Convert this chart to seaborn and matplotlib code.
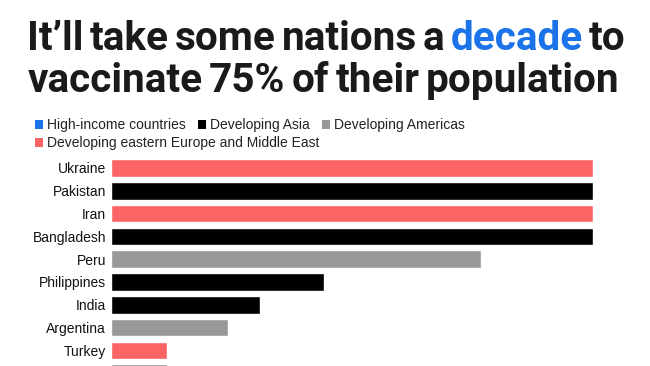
import matplotlib
matplotlib.use('Agg')
import matplotlib.pyplot as plt
import seaborn as sns
from matplotlib.patches import Patch

countries = ['Ukraine', 'Pakistan', 'Iran', 'Bangladesh', 'Peru',
             'Philippines', 'India', 'Argentina', 'Turkey', 'Mexico']
years = [10, 10, 10, 10, 7.68, 4.42, 3.09, 2.43, 1.16, 1.16]
regions = ['Developing eastern Europe and Middle East', 'Developing Asia',
           'Developing eastern Europe and Middle East', 'Developing Asia',
           'Developing Americas', 'Developing Asia', 'Developing Asia',
           'Developing Americas', 'Developing eastern Europe and Middle East',
           'Developing Americas']
legend_labels = ['High-income countries', 'Developing Asia',
                 'Developing Americas', 'Developing eastern Europe and Middle East']
colors = ['#1a73e8', '#000000', '#999999', '#fa6464']
title_1 = ['It\u2019ll', 'take', 'some', 'nations', 'a', 'decade', 'to']
title_1_col = ['k', 'k', 'k', 'k', 'k', colors[0], 'k']
title_2 = ['vaccinate', '75%', 'of', 'their', 'population']

sns.set_theme(style='white')
plt.rcParams['font.family'] = ['Liberation Sans', 'DejaVu Sans']

W, H = 650, 366
fig = plt.figure(figsize=(6.5, 3.66), dpi=100, facecolor='white')
ax = fig.add_axes([111 / W, 1 - 384.6 / H, 482 / W, 228 / H])
ax.patch.set_alpha(0)

pal = dict(zip(legend_labels, colors))
sns.barplot(x=years, y=countries, hue=regions, palette=pal, dodge=False,
            width=0.77, saturation=1, legend=False, ax=ax)
ax.set_xlim(0, 10)
ax.set_ylim(9.5, -0.5)
ax.set_xticks([])
ax.set_xlabel('')
ax.set_ylabel('')
sns.despine(ax=ax, left=True, bottom=True)
ax.tick_params(axis='y', length=0, pad=3.5, labelsize=10, labelcolor='#111111')
# last row is cut by the bottom edge in the reference, its label is not shown
ax.get_yticklabels()[-1].set_visible(False)

# legend, two rows
h = [Patch(facecolor=c, edgecolor='none') for c in colors]
kw = dict(frameon=False, fontsize=10, handlelength=0.6, handleheight=0.6,
          handletextpad=0.25, columnspacing=0.9, borderaxespad=0, borderpad=0,
          loc='center left', labelcolor='#222222')
fig.legend(handles=h[:3], labels=legend_labels[:3], ncol=3,
           bbox_to_anchor=(35 / W, 1 - 125 / H), **kw)
fig.legend(handles=h[3:], labels=legend_labels[3:], ncol=1,
           bbox_to_anchor=(35 / W, 1 - 143 / H), **kw)

# title, word by word with tight spacing, fitted to width
fig.canvas.draw()
r = fig.canvas.get_renderer()
tfont = dict(family=['Roboto', 'DejaVu Sans'], weight='bold')
gap = 0.15 * 100 / 72  # px per pt of font size
ws = 0
for wd in title_1:
    p = fig.text(0, 0, wd, fontsize=30, **tfont)
    ws += p.get_window_extent(r).width
    p.remove()
fs = 598 / (ws / 30 + gap * (len(title_1) - 1))


def put_line(words, cols, x, ybase):
    for wd, c in zip(words, cols):
        t = fig.text(x / W, 1 - ybase / H, wd, fontsize=fs, color=c,
                     va='baseline', ha='left', **tfont)
        x = t.get_window_extent(r).x1 + gap * fs


put_line(title_1, title_1_col, 27, 50)
put_line(title_2, ['k'] * len(title_2), 28, 92)

fig.savefig('out.png', dpi=100, facecolor='white')
